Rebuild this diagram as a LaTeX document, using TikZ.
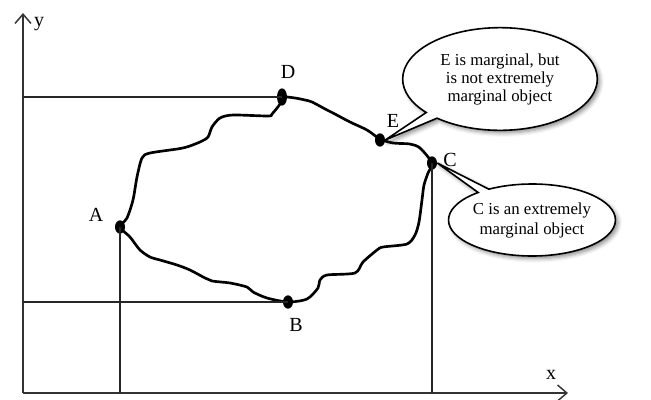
\documentclass[tikz,border=0pt]{standalone}
\usepackage{fontspec}
\setmainfont{Liberation Serif}
\usetikzlibrary{arrows.meta,shapes.geometric,shapes.callouts,shadows.blur}

\begin{document}
\begin{tikzpicture}[x=0.75pt,y=-0.75pt,
  axis/.style={line width=1.1pt, black!80},
  guide/.style={line width=0.9pt, black!85},
  border/.style={line width=2pt, line join=round, line cap=round},
  dot/.style={ellipse, fill=black, inner sep=0pt, minimum width=7.5pt, minimum height=10pt},
  lbl/.style={font=\fontsize{15}{15}\selectfont, inner sep=0pt},
  bubble/.style={ellipse callout, draw, line width=1.2pt, fill=white, align=center,
    inner sep=0pt, callout pointer arc=9,
    blur shadow={shadow xshift=2pt, shadow yshift=-2pt, shadow opacity=45, shadow blur radius=3pt}},
  tip/.style={-{Straight Barb[length=7pt,width=12pt]}}
]
\useasboundingbox (0,0) rectangle (651,400);

% axes
\coordinate (O) at (23,393);
\coordinate (ytip) at (23,13);
\coordinate (xtip) at (568,393);
\draw[axis, tip] (O) -- (ytip);
\draw[axis, tip] (O) -- (xtip);
\node[lbl] (ylab) at (39,24) {y};
\node[lbl] (xlab) at (551,375) {x};

% boundary of the object set
\draw[border] plot[smooth cycle, tension=0.45] coordinates {
  (282,97) (295,98) (305,100) (312,102) (327,110) (333,113) (350,122) (367,130) (380,139)
  (393,143) (410,144) (420,148) (432,163)
  (428,173) (424,185) (422,200) (419,222) (415,235) (407,244) (383,247) (377,250)
  (363,262) (355,273) (327,275) (320,280) (318,288) (307,299) (288,302)
  (267,298) (253,292) (247,287) (230,283) (212,281) (205,278) (190,270) (177,265)
  (160,260) (150,257) (140,250) (130,237) (120,227)
  (127,218) (133,200) (137,177) (142,158) (150,153) (183,148) (200,142) (208,137)
  (212,127) (220,118) (233,115) (268,116) (272,114) (280,104)};

% marked objects
\node[dot] (A) at (120,227) {};
\node[dot] (B) at (288,302) {};
\node[dot] (C) at (432,163) {};
\node[dot, minimum height=13pt] (D) at (282,97) {};
\node[dot] (E) at (380,140) {};

\node[lbl] (Alab) at (96,215) {A};
\node[lbl] (Blab) at (296,325) {B};
\node[lbl] (Clab) at (450,160) {C};
\node[lbl] (Dlab) at (288,72) {D};
\node[lbl] (Elab) at (393,121) {E};

% projections onto the axes
\draw[guide] (D.center) -- (D.center -| O);
\draw[guide] (B.center) -- (B.center -| O);
\draw[guide] (A.center) -- (A.center |- O);
\draw[guide] (C.center) -- (C.center |- O);

% callouts
\node[bubble, minimum width=146pt, minimum height=77pt,
      font=\fontsize{12.6}{13.5}\selectfont,
      callout absolute pointer={(E.east)}] (noteE) at (500,79)
  {E is marginal, but\\is not extremely\\marginal object};
\node[bubble, minimum width=123pt, minimum height=54pt,
      font=\fontsize{12.6}{15}\selectfont,
      callout absolute pointer={(C.east)}] (noteC) at (532,220)
  {C is an extremely\\marginal object};
\end{tikzpicture}
\end{document}
